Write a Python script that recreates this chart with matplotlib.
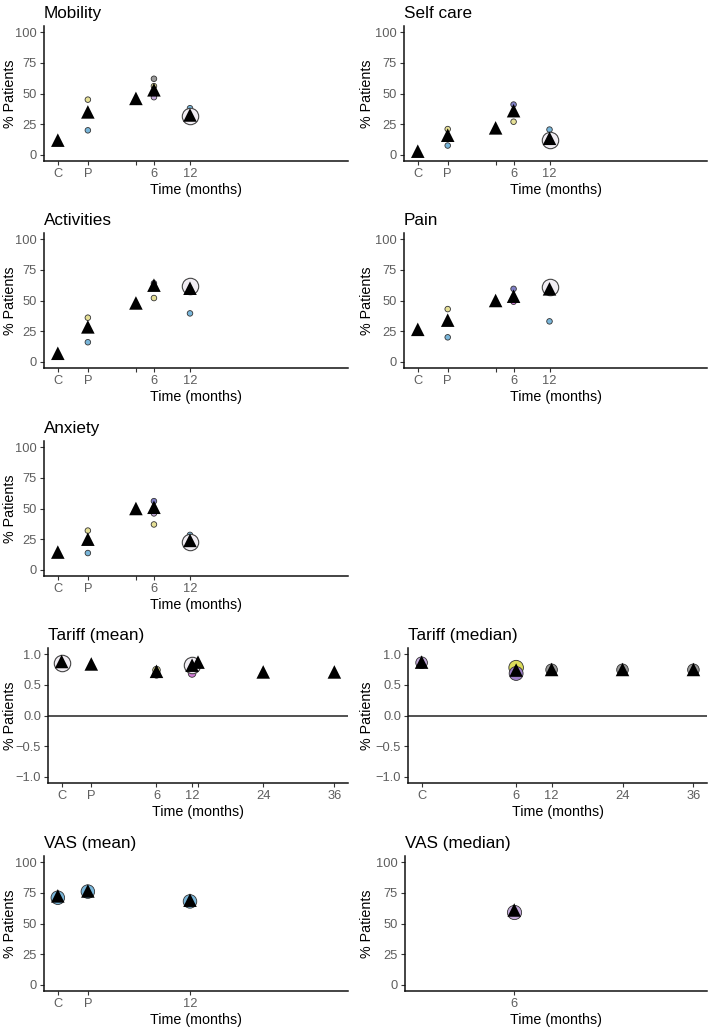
import numpy as np
import matplotlib.pyplot as plt

plt.rcParams['font.family'] = ['Liberation Sans', 'DejaVu Sans']

# colours used for the individual studies
BLUE = '#79B6DA'
YELLOW = '#E6E096'
GREY = '#9A9A9A'
PURPLE = '#7F7FC6'
LILAC = '#C3A9DA'
PINK = '#D27AD6'

# time codes: C = -10, P = -5
C, P = -10, -5

# ---- data -------------------------------------------------------------
mob_x = [P, P, 6, 6, 6, 6, 12]
mob_y = [45, 20, 62, 56, 49, 47, 38]
mob_c = [YELLOW, BLUE, GREY, YELLOW, PINK, LILAC, BLUE]
mob_tri_x = [C, P, 3, 6, 12]
mob_tri_y = [12, 35, 46, 53, 32.5]
mob_ring_x = [12]
mob_ring_y = [31.5]

self_x = [P, P, 6, 6, 6, 12]
self_y = [21, 7.6, 41, 34, 27, 20.6]
self_c = [YELLOW, BLUE, PURPLE, BLUE, YELLOW, BLUE]
self_tri_x = [C, P, 3, 6, 12]
self_tri_y = [3, 16, 22, 36, 13.5]
self_ring_x = [12]
self_ring_y = [12]

act_x = [P, P, 6, 6, 12]
act_y = [36, 16, 64, 52, 39.5]
act_c = [YELLOW, BLUE, PURPLE, YELLOW, BLUE]
act_tri_x = [C, P, 3, 6, 12]
act_tri_y = [7, 28.5, 48, 62.5, 60]
act_ring_x = [12]
act_ring_y = [61.5]

pain_x = [P, P, 6, 6, 12]
pain_y = [43, 20, 59.5, 49, 33]
pain_c = [YELLOW, BLUE, PURPLE, PINK, BLUE]
pain_tri_x = [C, P, 3, 6, 12]
pain_tri_y = [26.5, 34, 50, 53.5, 59.5]
pain_ring_x = [12]
pain_ring_y = [61]

anx_x = [P, P, 6, 6, 6, 12]
anx_y = [32, 13.7, 56, 46, 37, 28.5]
anx_c = [YELLOW, BLUE, PURPLE, LILAC, YELLOW, BLUE]
anx_tri_x = [C, P, 3, 6, 12]
anx_tri_y = [14.5, 25, 50, 51, 24]
anx_ring_x = [12]
anx_ring_y = [23]

tmean_x = [6, 6, 12]
tmean_y = [0.74, 0.67, 0.685]
tmean_c = [YELLOW, PINK, PINK]
tmean_tri_x = [C, P, 6, 12, 13, 24, 36]
tmean_tri_y = [0.88, 0.84, 0.72, 0.82, 0.87, 0.71, 0.71]
tmean_ring_x = [C, 12]
tmean_ring_y = [0.86, 0.83]

tmed_x = [C, 6, 6, 12, 24, 36]
tmed_y = [0.86, 0.78, 0.685, 0.745, 0.745, 0.745]
tmed_c = [LILAC, '#DCDC5A', '#9E7FC8', GREY, GREY, GREY]
tmed_s = [70, 110, 100, 70, 70, 70]
tmed_tri_x = [C, 6, 12, 24, 36]
tmed_tri_y = [0.87, 0.74, 0.75, 0.75, 0.75]

vmean_x = [C, P, 12]
vmean_y = [71, 76, 68]
vmean_tri_x = [C, P, 12]
vmean_tri_y = [72.5, 76.5, 69]

vmed_x = [6]
vmed_y = [59.6]
vmed_tri_x = [6]
vmed_tri_y = [61]

labels = {C: 'C', P: 'P', 3: '', 13: ''}

fig = plt.figure(figsize=(7.09, 10.28), dpi=100)
W, H = 709, 1028


def make_ax(left, top, right, bottom, ylab_px):
    ax = fig.add_axes([left / W, 1 - bottom / H, (right - left) / W, (bottom - top) / H])
    # place the y label at a fixed pixel column, like the reference
    ax.yaxis.set_label_coords((ylab_px - left) / (right - left), 0.5)
    return ax


def style(ax, title, ticks, tariff=False):
    ax.set_xlim(-12.3, 38.3)
    if tariff:
        ax.set_ylim(-1.1, 1.1)
        ax.set_yticks([-1.0, -0.5, 0.0, 0.5, 1.0])
        ax.set_yticklabels(['\u22121.0', '\u22120.5', '0.0', '0.5', '1.0'])
        ax.axhline(0, color='#222222', lw=1.1, zorder=1)
    else:
        ax.set_ylim(-5, 105)
        ax.set_yticks([0, 25, 50, 75, 100])
    ax.set_xticks(ticks)
    ax.set_xticklabels([labels.get(t, str(t)) for t in ticks])
    for s in ['top', 'right']:
        ax.spines[s].set_visible(False)
    for s in ['left', 'bottom']:
        ax.spines[s].set_linewidth(1.1)
        ax.spines[s].set_color('#111111')
    ax.tick_params(length=3, width=0.8, color='#333333', labelcolor='#5E5E5E',
                   labelsize=9.3, pad=2)
    ax.set_xlabel('Time (months)', fontsize=10.3, labelpad=2)
    ax.set_ylabel('% Patients', fontsize=10.3, va='center')
    ax.set_title(title, loc='left', fontsize=12.3, pad=6)


def draw(ax, sx, sy, sc, tx, ty, rx=None, ry=None, ss=16):
    ax.scatter(sx, sy, s=ss, c=sc, edgecolors='#333333', linewidths=0.6, zorder=2)
    if rx:
        ax.scatter(rx, ry, s=140, facecolors='#F1EDF3', edgecolors='#444444',
                   linewidths=0.8, zorder=3)
    ax.scatter(tx, ty, s=95, marker='^', c='black', edgecolors='none', zorder=4)


ax = make_ax(44, 26, 348, 161, 10)
draw(ax, mob_x, mob_y, mob_c, mob_tri_x, mob_tri_y, mob_ring_x, mob_ring_y)
style(ax, 'Mobility', sorted(set(mob_tri_x)))

ax = make_ax(404, 26, 707, 161, 367)
draw(ax, self_x, self_y, self_c, self_tri_x, self_tri_y, self_ring_x, self_ring_y)
style(ax, 'Self care', sorted(set(self_tri_x)))

ax = make_ax(44, 233, 348, 368, 10)
draw(ax, act_x, act_y, act_c, act_tri_x, act_tri_y, act_ring_x, act_ring_y)
style(ax, 'Activities', sorted(set(act_tri_x)))

ax = make_ax(404, 233, 707, 368, 367)
draw(ax, pain_x, pain_y, pain_c, pain_tri_x, pain_tri_y, pain_ring_x, pain_ring_y)
style(ax, 'Pain', sorted(set(pain_tri_x)))

ax = make_ax(44, 441, 348, 576, 10)
draw(ax, anx_x, anx_y, anx_c, anx_tri_x, anx_tri_y, anx_ring_x, anx_ring_y)
style(ax, 'Anxiety', sorted(set(anx_tri_x)))

ax = make_ax(48, 648, 348, 783, 10)
draw(ax, tmean_x, tmean_y, tmean_c, tmean_tri_x, tmean_tri_y, tmean_ring_x, tmean_ring_y, ss=30)
style(ax, 'Tariff (mean)', sorted(set(tmean_tri_x)), tariff=True)

ax = make_ax(408, 648, 707, 783, 367)
draw(ax, tmed_x, tmed_y, tmed_c, tmed_tri_x, tmed_tri_y, ss=tmed_s)
style(ax, 'Tariff (median)', sorted(set(tmed_tri_x)), tariff=True)

ax = make_ax(44, 856, 348, 991, 10)
draw(ax, vmean_x, vmean_y, [BLUE] * 3, vmean_tri_x, vmean_tri_y, ss=95)
style(ax, 'VAS (mean)', sorted(set(vmean_tri_x)))

ax = make_ax(405, 856, 707, 991, 367)
draw(ax, vmed_x, vmed_y, [LILAC], vmed_tri_x, vmed_tri_y, ss=105)
style(ax, 'VAS (median)', sorted(set(vmed_tri_x)))

fig.savefig('out.png', dpi=100)
